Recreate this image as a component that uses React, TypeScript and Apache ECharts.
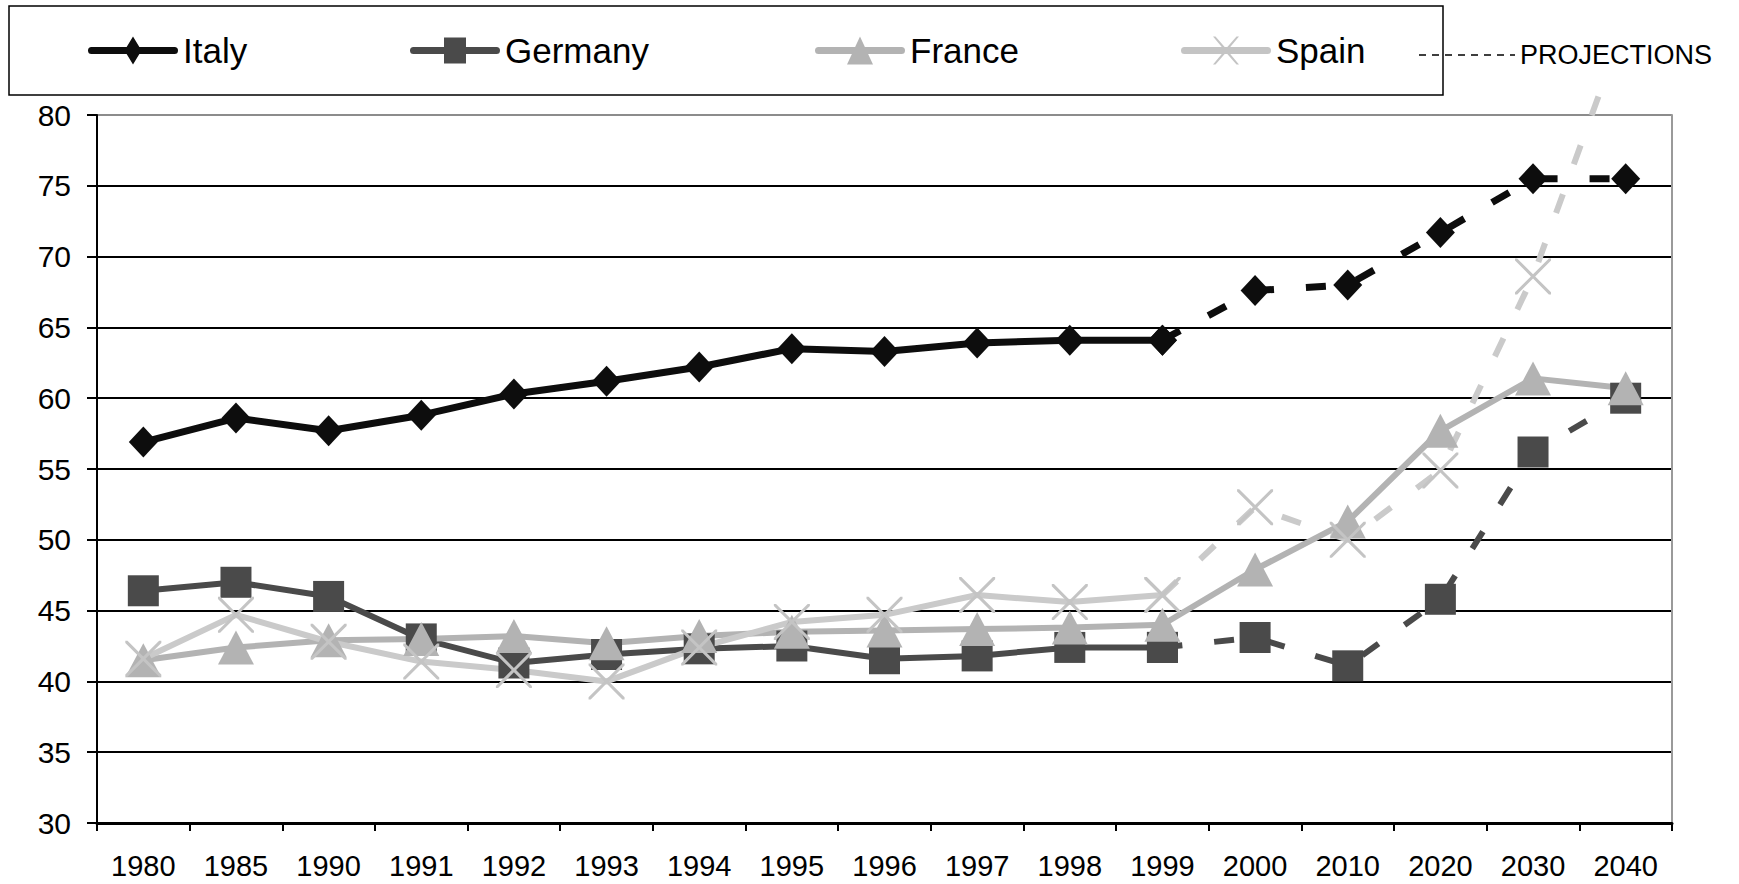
import React, { useEffect, useRef } from "react";
import * as echarts from "echarts";

const categories = ["1980","1985","1990","1991","1992","1993","1994","1995","1996","1997","1998","1999","2000","2010","2020","2030","2040"];
const italy = [56.9, 58.6, 57.7, 58.8, 60.3, 61.2, 62.2, 63.5, 63.3, 63.9, 64.1, 64.1, 67.6, 68.0, 71.7, 75.5, 75.5];
const germany = [46.4, 47.0, 46.0, 43.0, 41.3, 41.9, 42.3, 42.5, 41.6, 41.8, 42.4, 42.4, 43.1, 41.1, 45.8, 56.2, 60.0];
const france = [41.5, 42.4, 42.9, 43.0, 43.2, 42.7, 43.2, 43.5, 43.6, 43.7, 43.8, 44.0, 47.9, 51.3, 57.7, 61.4, 60.7];
const spain = [41.6, 44.7, 42.8, 41.4, 40.8, 40.0, 42.4, 44.2, 44.7, 46.1, 45.6, 46.1, 52.3, 50.0, 54.9, 68.6, 86.6];
const lastObservedIndex = 11; // 1999
const yMin = 30;
const yMax = 80;
const yStep = 5;

const FONT = '"Liberation Sans", Arial, Helvetica, sans-serif';

const solidPart = (arr: number[]) => arr.map((v, i) => (i <= lastObservedIndex ? v : null));
const projPart = (arr: number[]) => arr.map((v, i) => (i >= lastObservedIndex ? v : null));

const X_SYMBOL = "path://M0,0 L6,0 L50,44 L94,0 L100,0 L100,6 L56,50 L100,94 L100,100 L94,100 L50,56 L6,100 L0,100 L0,94 L44,50 L0,6 Z";

const LINE_ICON = "M3.5,10.5 L86.5,10.5 Q90,10.5 90,14 Q90,17.5 86.5,17.5 L3.5,17.5 Q0,17.5 0,14 Q0,10.5 3.5,10.5 Z";
const ICON_ITALY = "path://" + LINE_ICON + " M45,0 L53.5,14 L45,28 L36.5,14 Z";
const ICON_GERMANY = "path://" + LINE_ICON + " M34,1 L56,1 L56,27 L34,27 Z M45,0 L45,0 Z M45,28 L45,28 Z";
const ICON_FRANCE = "path://" + LINE_ICON + " M45,0 L58,28 L32,28 Z";
const ICON_SPAIN = "path://" + LINE_ICON + " M32,0 L34.5,0 L45,12 L55.5,0 L58,0 L46.3,14 L58,28 L55.5,28 L45,16 L34.5,28 L32,28 L43.7,14 Z";

const COLORS = {
  italy: "#0d0d0d",
  germany: "#4a4a4a",
  france: "#b3b3b3",
  spain: "#cacaca",
};

export default function App() {
  const ref = useRef<HTMLDivElement>(null);

  useEffect(() => {
    if (!ref.current) return;
    const chart = echarts.init(ref.current, null, { renderer: "svg" });

    const nLines = (yMax - yMin) / yStep + 1;
    const splitColors = Array.from({ length: nLines }, (_, i) => (i === nLines - 1 ? "#8c8c8c" : "#000000"));

    const gridH = 884 - 61 - 115;
    const pxPerUnit = gridH / (yMax - yMin);
    const grid2Top = 93;
    const grid2Max = yMin + (884 - 61 - grid2Top) / pxPerUnit;

    const legendCommon = {
      top: 33,
      itemWidth: 90,
      itemHeight: 28,
      selectedMode: false,
      textStyle: { fontSize: 35, fontFamily: FONT, color: "#000" },
      padding: 0,
    };

    const dashed = [20, 32];

    const option: any = {
      animation: false,
      backgroundColor: "#ffffff",
      textStyle: { fontFamily: FONT },
      grid: [
        { left: 97, right: 67, top: 115, bottom: 61, containLabel: false },
        { left: 97, right: 67, top: grid2Top, bottom: 61, containLabel: false },
      ],
      legend: [
        { ...legendCommon, left: 88, data: [{ name: "Italy", icon: ICON_ITALY }] },
        { ...legendCommon, left: 410, data: [{ name: "Germany", icon: ICON_GERMANY }] },
        { ...legendCommon, left: 815, data: [{ name: "France", icon: ICON_FRANCE }] },
        { ...legendCommon, left: 1181, data: [{ name: "Spain", icon: ICON_SPAIN }] },
      ],
      xAxis: [
        {
          type: "category",
          gridIndex: 0,
          data: categories,
          boundaryGap: true,
          axisLine: { show: true, lineStyle: { color: "#000", width: 3 } },
          axisTick: { show: true, length: 8, interval: 0, lineStyle: { color: "#000", width: 2 } },
          axisLabel: { interval: 0, fontSize: 29, color: "#000", margin: 28, fontFamily: FONT },
          splitLine: { show: false },
        },
        {
          type: "category",
          gridIndex: 1,
          data: categories,
          boundaryGap: true,
          show: false,
        },
      ],
      yAxis: [
        {
          type: "value",
          gridIndex: 0,
          min: yMin,
          max: yMax,
          interval: yStep,
          axisLine: { show: true, lineStyle: { color: "#000", width: 2 } },
          axisTick: { show: true, length: 10, lineStyle: { color: "#000", width: 2 } },
          axisLabel: { fontSize: 30, color: "#000", margin: 26, fontFamily: FONT },
          splitLine: { show: true, lineStyle: { color: splitColors, width: 2 } },
        },
        {
          type: "value",
          gridIndex: 0,
          position: "right",
          min: yMin,
          max: yMax,
          interval: yStep,
          axisLine: { show: true, lineStyle: { color: "#9a9a9a", width: 2 } },
          axisTick: { show: false },
          axisLabel: { show: false },
          splitLine: { show: false },
        },
        {
          type: "value",
          gridIndex: 1,
          min: yMin,
          max: grid2Max,
          show: false,
          splitLine: { show: false },
        },
      ],
      series: [
        {
          name: "Italy",
          type: "line",
          data: solidPart(italy),
          color: COLORS.italy,
          symbol: "diamond",
          symbolSize: [29, 31],
          lineStyle: { width: 7, color: COLORS.italy },
          itemStyle: { color: COLORS.italy },
        },
        {
          name: "Italy projection",
          type: "line",
          data: projPart(italy),
          color: COLORS.italy,
          symbol: "diamond",
          symbolSize: [29, 31],
          lineStyle: { width: 7, color: COLORS.italy, type: dashed },
          itemStyle: { color: COLORS.italy },
        },
        {
          name: "Germany",
          type: "line",
          data: solidPart(germany),
          color: COLORS.germany,
          symbol: "rect",
          symbolSize: [31, 31],
          lineStyle: { width: 6, color: COLORS.germany },
          itemStyle: { color: COLORS.germany },
        },
        {
          name: "Germany projection",
          type: "line",
          data: projPart(germany),
          color: COLORS.germany,
          symbol: "rect",
          symbolSize: [31, 31],
          lineStyle: { width: 6, color: COLORS.germany, type: dashed },
          itemStyle: { color: COLORS.germany },
        },
        {
          name: "France",
          type: "line",
          data: france,
          color: COLORS.france,
          symbol: "triangle",
          symbolSize: [36, 34],
          lineStyle: { width: 6, color: COLORS.france },
          itemStyle: { color: COLORS.france },
        },
        {
          name: "Spain",
          type: "line",
          data: solidPart(spain),
          color: COLORS.spain,
          symbol: X_SYMBOL,
          symbolSize: [36, 36],
          lineStyle: { width: 6, color: COLORS.spain },
          itemStyle: { color: "#c4c4c4" },
        },
        {
          name: "Spain projection",
          type: "line",
          xAxisIndex: 1,
          yAxisIndex: 2,
          clip: true,
          data: projPart(spain),
          color: COLORS.spain,
          symbol: X_SYMBOL,
          symbolSize: [36, 36],
          lineStyle: { width: 6, color: COLORS.spain, type: dashed },
          itemStyle: { color: "#c4c4c4" },
        },
      ],
      graphic: [
        {
          type: "rect",
          shape: { x: 9, y: 6, width: 1434, height: 89 },
          style: { fill: "none", stroke: "#000", lineWidth: 1.5 },
          z: 10,
        },
        {
          type: "line",
          shape: { x1: 1419, y1: 55, x2: 1515, y2: 55 },
          style: { stroke: "#000", lineWidth: 1.5, lineDash: [7, 6] },
          z: 10,
        },
        {
          type: "text",
          x: 1520,
          y: 55,
          style: { text: "PROJECTIONS", fontSize: 27, fontFamily: FONT, fill: "#000", verticalAlign: "middle", align: "left" },
          z: 10,
        },
      ],
    };

    chart.setOption(option);
    return () => chart.dispose();
  }, []);

  return (
    <div
      ref={ref}
      style={{ position: "absolute", left: 0, top: 0, width: 1739, height: 884, background: "#fff" }}
    />
  );
}
